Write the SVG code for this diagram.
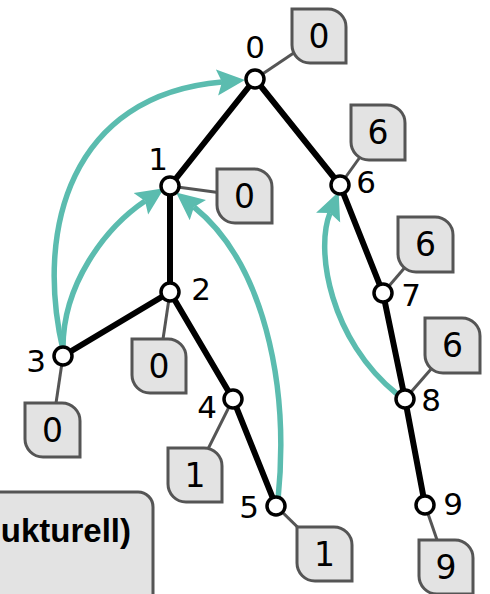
<svg xmlns="http://www.w3.org/2000/svg" width="490" height="594" viewBox="0 0 490 594">
  <style>
    .edge { stroke: #000; stroke-width: 6; fill: none; stroke-linecap: round; }
    .back { stroke: #5bbcaf; stroke-width: 5.5; fill: none; }
    .lead { stroke: #555; stroke-width: 3; fill: none; }
    .box { fill: #e3e3e3; stroke: #555; stroke-width: 3; }
    .node { fill: #fff; stroke: #000; stroke-width: 3.5; }
    .lbl { font-family: "DejaVu Sans", sans-serif; font-size: 31px; fill: #000; text-anchor: middle; }
    .val { font-family: "DejaVu Sans", sans-serif; font-size: 33px; fill: #000; text-anchor: middle; }
    .legend { font-family: "Liberation Sans", Arial, sans-serif; font-weight: bold; font-size: 33px; fill: #000; text-anchor: end; }
  </style>
  <defs>
    <marker id="ah" markerUnits="userSpaceOnUse" viewBox="0 -14 30 28" refX="5" refY="0" markerWidth="30" markerHeight="28" orient="auto">
      <path d="M0,-13 L28,0 L0,13 L5,0 Z" fill="#5bbcaf"/>
    </marker>
  </defs>

  <g id="legend">
    <rect x="-20" y="492" width="173" height="130" rx="15" fill="#e3e3e3" stroke="#555" stroke-width="3"/>
    <text class="legend" x="131" y="542">ukturell)</text>
  </g>

  <g id="connectors">
    <path class="back" d="M63,350 C35,230 70,95 222,82" marker-end="url(#ah)"/>
    <path class="back" d="M63,350 C62,285 105,228 145,201" marker-end="url(#ah)"/>
    <path class="back" d="M278,500 C290,380 262,262 194,207" marker-end="url(#ah)"/>
    <path class="back" d="M397,394 C330,340 315,250 330,213" marker-end="url(#ah)"/>

    <line class="edge" x1="255" y1="79" x2="170" y2="186"/>
    <line class="edge" x1="255" y1="79" x2="340" y2="185"/>
    <line class="edge" x1="170" y1="186" x2="170" y2="292"/>
    <line class="edge" x1="170" y1="292" x2="63" y2="356"/>
    <line class="edge" x1="170" y1="292" x2="233" y2="399"/>
    <line class="edge" x1="233" y1="399" x2="276" y2="506"/>
    <line class="edge" x1="340" y1="185" x2="383" y2="293"/>
    <line class="edge" x1="383" y1="293" x2="405" y2="399"/>
    <line class="edge" x1="405" y1="399" x2="425" y2="505"/>

    <line class="lead" x1="255" y1="79" x2="319" y2="36"/>
    <line class="lead" x1="170" y1="186" x2="244" y2="196"/>
    <line class="lead" x1="170" y1="292" x2="159" y2="366"/>
    <line class="lead" x1="63" y1="356" x2="52" y2="430"/>
    <line class="lead" x1="233" y1="399" x2="195" y2="475"/>
    <line class="lead" x1="276" y1="506" x2="324" y2="553"/>
    <line class="lead" x1="340" y1="185" x2="378" y2="132"/>
    <line class="lead" x1="383" y1="293" x2="425" y2="244"/>
    <line class="lead" x1="405" y1="399" x2="452" y2="345"/>
    <line class="lead" x1="425" y1="505" x2="446" y2="566"/>
  </g>

  <g id="n0">
    <path class="box" d="M292,9 H328 A18,18 0 0 1 346,27 V63 H310 A18,18 0 0 1 292,45 Z"/>
    <text class="val" x="319" y="48">0</text>
    <circle class="node" cx="255" cy="79" r="9"/>
    <text class="lbl" x="255" y="58">0</text>
  </g>
  <g id="n1">
    <path class="box" d="M217,169 H254 A18,18 0 0 1 272,187 V223 H235 A18,18 0 0 1 217,205 Z"/>
    <text class="val" x="244.5" y="208">0</text>
    <circle class="node" cx="170" cy="186" r="9"/>
    <text class="lbl" x="158" y="170">1</text>
  </g>
  <g id="n2">
    <path class="box" d="M132,339 H168 A18,18 0 0 1 186,357 V393 H150 A18,18 0 0 1 132,375 Z"/>
    <text class="val" x="159" y="378">0</text>
    <circle class="node" cx="170" cy="292" r="9"/>
    <text class="lbl" x="201" y="300">2</text>
  </g>
  <g id="n3">
    <path class="box" d="M25,403 H62 A18,18 0 0 1 80,421 V457 H43 A18,18 0 0 1 25,439 Z"/>
    <text class="val" x="52.5" y="442">0</text>
    <circle class="node" cx="63" cy="356" r="9"/>
    <text class="lbl" x="36" y="372">3</text>
  </g>
  <g id="n4">
    <path class="box" d="M168,448 H204 A18,18 0 0 1 222,466 V502 H186 A18,18 0 0 1 168,484 Z"/>
    <text class="val" x="195" y="487">1</text>
    <circle class="node" cx="233" cy="399" r="9"/>
    <text class="lbl" x="207" y="418">4</text>
  </g>
  <g id="n5">
    <path class="box" d="M297,527 H334 A18,18 0 0 1 352,545 V581 H315 A18,18 0 0 1 297,563 Z"/>
    <text class="val" x="324.5" y="566">1</text>
    <circle class="node" cx="276" cy="506" r="9"/>
    <text class="lbl" x="249" y="518">5</text>
  </g>
  <g id="n6">
    <path class="box" d="M351,105 H387 A18,18 0 0 1 405,123 V160 H369 A18,18 0 0 1 351,142 Z"/>
    <text class="val" x="378" y="144">6</text>
    <circle class="node" cx="340" cy="185" r="9"/>
    <text class="lbl" x="366" y="193">6</text>
  </g>
  <g id="n7">
    <path class="box" d="M398,217 H435 A18,18 0 0 1 453,235 V272 H416 A18,18 0 0 1 398,254 Z"/>
    <text class="val" x="425.5" y="256">6</text>
    <circle class="node" cx="383" cy="293" r="9"/>
    <text class="lbl" x="411" y="306">7</text>
  </g>
  <g id="n8">
    <path class="box" d="M425,318 H462 A18,18 0 0 1 480,336 V373 H443 A18,18 0 0 1 425,355 Z"/>
    <text class="val" x="452.5" y="357">6</text>
    <circle class="node" cx="405" cy="399" r="9"/>
    <text class="lbl" x="431" y="411">8</text>
  </g>
  <g id="n9">
    <path class="box" d="M419,540 H455 A18,18 0 0 1 473,558 V594 H437 A18,18 0 0 1 419,576 Z"/>
    <text class="val" x="446" y="579">9</text>
    <circle class="node" cx="425" cy="505" r="9"/>
    <text class="lbl" x="453" y="515">9</text>
  </g>
</svg>
